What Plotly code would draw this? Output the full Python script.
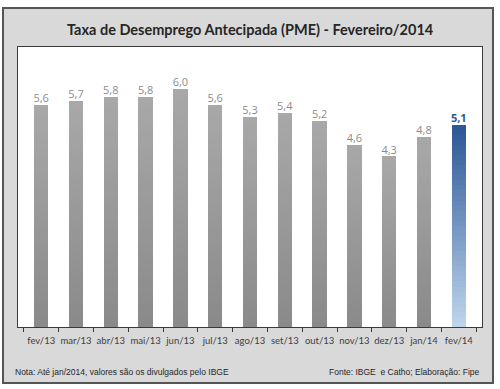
import plotly.graph_objects as go

categories = ["fev/13", "mar/13", "abr/13", "mai/13", "jun/13", "jul/13", "ago/13",
              "set/13", "out/13", "nov/13", "dez/13", "jan/14", "fev/14"]
values = [5.6, 5.7, 5.8, 5.8, 6.0, 5.6, 5.3, 5.4, 5.2, 4.6, 4.3, 4.8, 5.1]
labels = ["5,6", "5,7", "5,8", "5,8", "6,0", "5,6", "5,3", "5,4", "5,2", "4,6", "4,3", "4,8", "5,1"]

title = "Taxa de Desemprego Antecipada (PME) - Fevereiro/2014"
note_left = "Nota: Até jan/2014, valores são os divulgados pelo IBGE"
note_right = "Fonte: IBGE  e Catho; Elaboração: Fipe"

N_SEG = 40
gray_bottom, gray_top = (138, 138, 138), (168, 168, 168)
blue_bottom, blue_top = (190, 212, 236), (44, 88, 150)


def mix(a, b, t):
    return "rgb(%d,%d,%d)" % tuple(round(a[k] + (b[k] - a[k]) * t) for k in range(3))


fig = go.Figure()
for i in range(N_SEG):
    t = i / (N_SEG - 1)
    colors = [mix(blue_bottom, blue_top, t) if c == "fev/14" else mix(gray_bottom, gray_top, t)
              for c in categories]
    fig.add_trace(go.Bar(
        x=categories, y=[v / N_SEG for v in values],
        marker=dict(color=colors, line=dict(width=0)),
        hoverinfo="skip", showlegend=False,
    ))

text_colors = ["#8c8c8c"] * (len(categories) - 1) + ["#2c5896"]
text_vals = labels[:-1] + ["<b>" + labels[-1] + "</b>"]
fig.add_trace(go.Scatter(
    x=categories, y=values, mode="text", text=text_vals,
    textposition="top center",
    textfont=dict(family="Open Sans", size=11, color=text_colors),
    showlegend=False, hoverinfo="skip",
))

fig.update_layout(
    width=500, height=389,
    margin=dict(l=18, r=18, t=47, b=62, autoexpand=False),
    barmode="stack", bargap=0.59, hovermode=False,
    paper_bgcolor="white", plot_bgcolor="white",
    xaxis=dict(
        type="category", showline=True, mirror=True, linecolor="#3a3a3a", linewidth=1,
        ticks="outside", tickson="boundaries", ticklen=4, tickcolor="#3a3a3a",
        tickangle=0, automargin=False, ticklabelstandoff=5,
        tickfont=dict(family="Lato", size=9.5, color="#404040"),
        showgrid=False, fixedrange=True,
    ),
    yaxis=dict(
        range=[0, 7.06], showline=True, mirror=True, linecolor="#3a3a3a", linewidth=1,
        showticklabels=False, showgrid=False, zeroline=False, ticks="", automargin=False,
        fixedrange=True,
    ),
    shapes=[
        dict(type="rect", xref="paper", yref="paper", x0=-0.0323, x1=1.0237, y0=-0.2, y1=1.139,
             fillcolor="#d9d9d9", line=dict(color="#555555", width=2), layer="below"),
        dict(type="rect", xref="paper", yref="paper", x0=0, x1=1, y0=0, y1=1,
             fillcolor="white", line=dict(width=0), layer="below"),
    ],
    annotations=[
        dict(text="<b>" + title + "</b>", xref="paper", yref="paper", x=0.5, y=1.064,
             xanchor="center", yanchor="middle", showarrow=False,
             font=dict(family="Lato", size=14.5, color="#262626")),
        dict(text=note_left, xref="paper", yref="paper", x=-0.011, y=-0.161,
             xanchor="left", yanchor="middle", showarrow=False,
             font=dict(family="Liberation Sans", size=8.5, color="#262626")),
        dict(text=note_right, xref="paper", yref="paper", x=1.0, y=-0.161,
             xanchor="right", yanchor="middle", showarrow=False,
             font=dict(family="Liberation Sans", size=8.5, color="#262626")),
    ],
)

fig.write_html(
    "out.html",
    config={"displayModeBar": False, "staticPlot": True},
    post_script="document.body.style.margin='0';document.body.style.padding='0';"
                "document.body.style.overflow='hidden';",
)
